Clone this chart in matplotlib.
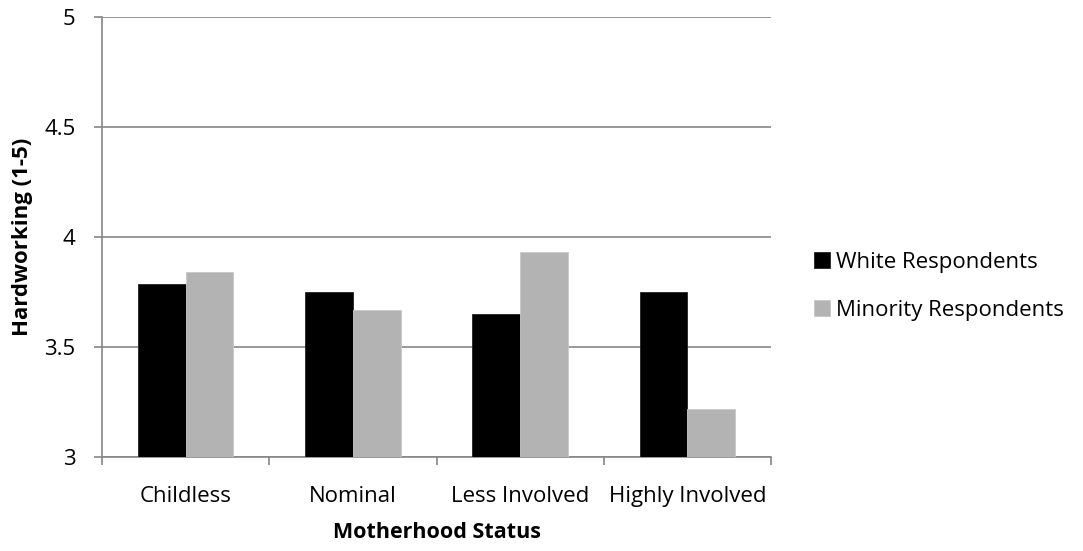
import matplotlib
matplotlib.use("Agg")
import matplotlib.pyplot as plt
import numpy as np

categories = ["Childless", "Nominal", "Less Involved", "Highly Involved"]
white = [3.785, 3.75, 3.65, 3.75]
minority = [3.84, 3.67, 3.93, 3.22]
series_names = ["White Respondents", "Minority Respondents"]
y_ticks = [3, 3.5, 4, 4.5, 5]
y_tick_labels = ["3", "3.5", "4", "4.5", "5"]

plt.rcParams["font.family"] = ["Open Sans", "DejaVu Sans"]

fig = plt.figure(figsize=(10.83, 5.51), dpi=100)
ax = fig.add_axes([0.0942, 0.1706, 0.6177, 0.7984])

grid_color = "#868686"
x = np.arange(len(categories))
w = 0.285
ax.bar(x - w / 2, np.array(white) - 3, w, bottom=3, color="black",
       edgecolor="#222222", linewidth=0.6, label=series_names[0], zorder=3)
ax.bar(x + w / 2, np.array(minority) - 3, w, bottom=3, color="#b3b3b3",
       edgecolor="#c8c8c8", linewidth=0.6, label=series_names[1], zorder=3)

ax.set_xlim(-0.5, len(categories) - 0.5)
ax.set_ylim(3, 5)
ax.set_yticks(y_ticks)
ax.set_yticklabels(y_tick_labels, fontsize=16)
ax.yaxis.grid(True, color=grid_color, linewidth=1.2, zorder=0)

# category labels sit between boundary ticks
ax.set_xticks(np.arange(len(categories) + 1) - 0.5)
ax.set_xticklabels([])
ax.set_xticks(x, minor=True)
ax.set_xticklabels(categories, minor=True, fontsize=16)
ax.tick_params(axis="x", which="minor", length=0, pad=21)
ax.tick_params(axis="x", which="major", length=6, width=1.2, color=grid_color)
ax.tick_params(axis="y", length=6, width=1.2, color=grid_color, pad=13)

for side in ("top", "right"):
    ax.spines[side].set_visible(False)
for side in ("left", "bottom"):
    ax.spines[side].set_color(grid_color)
    ax.spines[side].set_linewidth(1.2)

ax.set_xlabel("Motherhood Status", fontsize=15.5, fontweight="bold", labelpad=11)
ax.set_ylabel("Hardworking (1-5)", fontsize=16, fontweight="bold", labelpad=8)

leg = ax.legend(loc="center left", bbox_to_anchor=(1.064, 0.388), frameon=False,
                fontsize=16, handlelength=0.75, handleheight=0.75,
                handletextpad=0.25, labelspacing=1.22, borderpad=0,
                borderaxespad=0)

fig.savefig("out.png", dpi=100)
